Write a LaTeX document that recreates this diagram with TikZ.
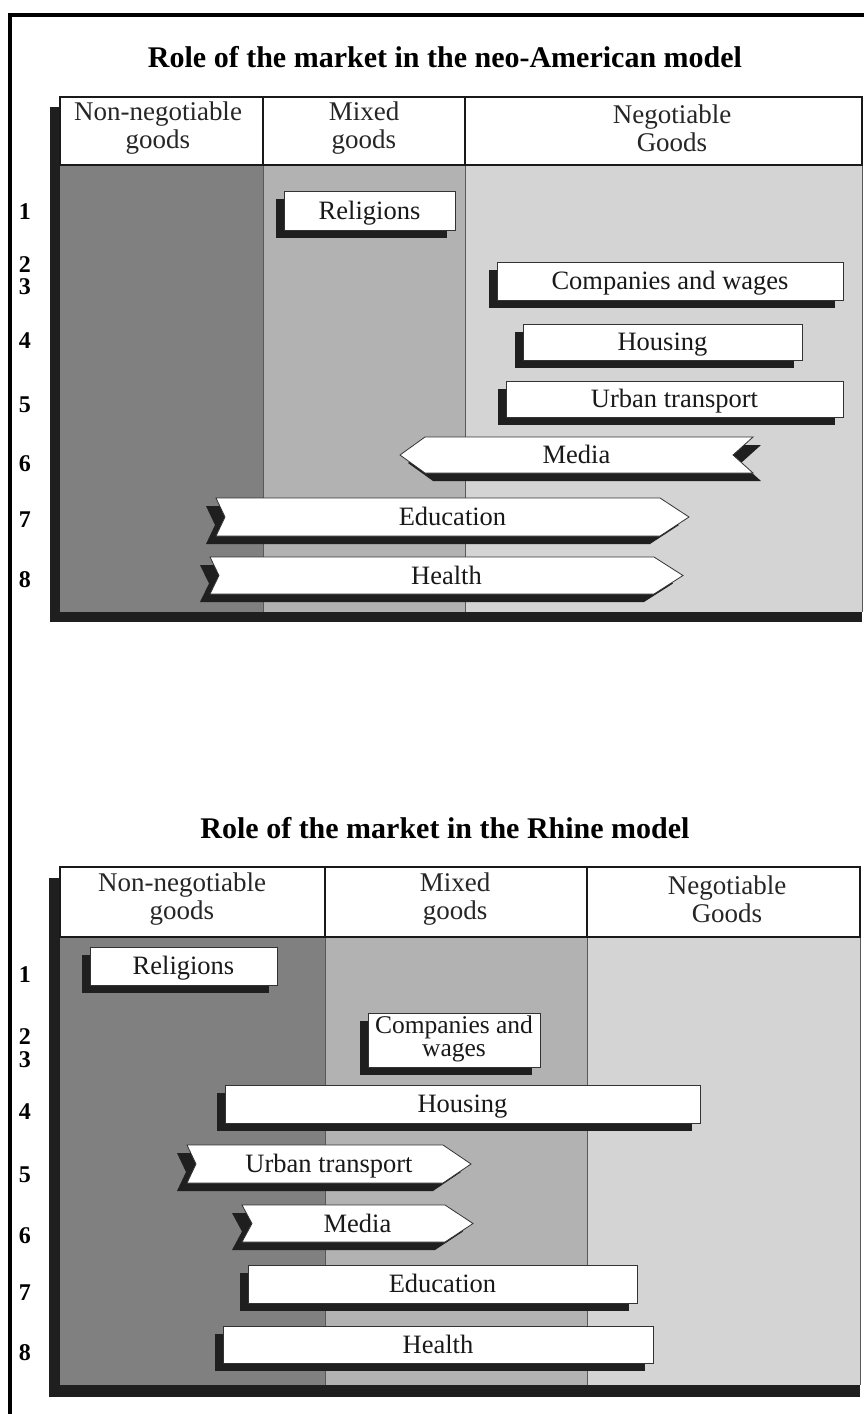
\documentclass[tikz,border=0pt]{standalone}
\usepackage{fontspec}
\setmainfont{Liberation Serif}
\definecolor{cola}{HTML}{808080}
\definecolor{colb}{HTML}{B2B2B2}
\definecolor{colc}{HTML}{D4D4D4}
\tikzset{
  frameline/.style={line width=3.5pt, black},
  hdrline/.style={line width=1.6pt, black!90},
  divline/.style={line width=1pt, black!65},
  tshadow/.style={fill=black!88},
  barshadow/.style={fill=black!88},
  barbox/.style={fill=white, draw=black!80, line width=0.8pt},
  bartext/.style={font=\fontsize{26.5}{26}\selectfont, inner sep=0pt, text=black!90},
  bartwo/.style={font=\fontsize{25.5}{23}\selectfont, inner sep=0pt, align=center, text=black!90},
  hdrtext/.style={font=\fontsize{27}{28}\selectfont, inner sep=0pt, align=center, text=black!85},
  rownum/.style={font=\bfseries\fontsize{24}{24}\selectfont, inner sep=0pt, text=black},
  titletext/.style={font=\bfseries\fontsize{30}{30}\selectfont, inner sep=0pt, text=black},
}
% rectangular bar: name, xl, xr, yt, yb, text
\newcommand\RectBar[6]{%
  \fill[barshadow] ({#2-8},{#4+8}) rectangle ({#3-8},{#5+8});
  \draw[barbox] (#2,#4) rectangle (#3,#5);
  \node[bartext,anchor=base] (#1) at ({(#2+#3)/2},{(#4+#5)/2+8.5}) {#6};
}
% right-pointing arrow: name, xl, xr, yt, yb, text, tip depth, notch depth
\newcommand\RArrow[8]{%
  \fill[barshadow] ({#2-10},{#4+8}) -- ({#3-#7-10},{#4+8}) -- ({#3-10},{(#4+#5)/2+8}) -- ({#3-#7-10},{#5+8}) -- ({#2-10},{#5+8}) -- ({#2+#8-10},{(#4+#5)/2+8}) -- cycle;
  \draw[barbox] (#2,#4) -- ({#3-#7},#4) -- (#3,{(#4+#5)/2}) -- ({#3-#7},#5) -- (#2,#5) -- ({#2+#8},{(#4+#5)/2}) -- cycle;
  \node[bartext,anchor=base] (#1) at ({(#2+#3)/2},{(#4+#5)/2+8.5}) {#6};
}
% left-pointing arrow (shadow to the right): name, xl, xr, yt, yb, text, tip depth, notch depth
\newcommand\LArrow[8]{%
  \fill[barshadow] ({#2+8},{(#4+#5)/2+8}) -- ({#2+#7+8},{#4+8}) -- ({#3+8},{#4+8}) -- ({#3-#8+8},{(#4+#5)/2+8}) -- ({#3+8},{#5+8}) -- ({#2+#7+8},{#5+8}) -- cycle;
  \draw[barbox] (#2,{(#4+#5)/2}) -- ({#2+#7},#4) -- (#3,#4) -- ({#3-#8},{(#4+#5)/2}) -- (#3,#5) -- ({#2+#7},#5) -- cycle;
  \node[bartext,anchor=base] (#1) at ({(#2+#3)/2},{(#4+#5)/2+8.5}) {#6};
}
\begin{document}
\begin{tikzpicture}[x=1pt,y=-1pt]
\useasboundingbox (0,0) rectangle (864,1414);
\fill[white] (0,0) rectangle (864,1414);
% outer frame
\draw[frameline] (10,1420) -- (10,15) -- (870,15);

% ---------------- Table 1 ----------------
\node[titletext] (title1) at (445,57) {Role of the market in the neo-American model};
\fill[tshadow] (50,107) rectangle (862,622);
\fill[cola] (60,165) rectangle (263,612);
\fill[colb] (263,165) rectangle (465,612);
\fill[colc] (465,165) rectangle (862,612);
\fill[white] (60,97) rectangle (862,165);
\draw[divline] (263,165) -- (263,612);
\draw[divline] (465,165) -- (465,612);
\draw[divline] (862,165) -- (862,612);
\draw[hdrline] (60,97) rectangle (862,165);
\draw[hdrline] (263,97) -- (263,165);
\draw[hdrline] (465,97) -- (465,165);
\node[hdrtext] (h1a) at (158,128) {Non-negotiable\\goods};
\node[hdrtext] (h1b) at (364,128) {Mixed\\goods};
\node[hdrtext] (h1c) at (672,128) {Negotiable\\Goods};

\node[rownum] (r1a) at (25,212) {1};
\node[rownum] (r1b) at (25,265) {2};
\node[rownum] (r1c) at (25,287) {3};
\node[rownum] (r1d) at (25,341) {4};
\node[rownum] (r1e) at (25,405) {5};
\node[rownum] (r1f) at (25,464) {6};
\node[rownum] (r1g) at (25,520) {7};
\node[rownum] (r1h) at (25,580) {8};

\RectBar{t1rel}{284}{455}{191}{230}{Religions}
\RectBar{t1com}{497}{843}{262}{300}{Companies and wages}
\RectBar{t1hou}{523}{802}{324}{360}{Housing}
\RectBar{t1urb}{506}{843}{381}{417}{Urban transport}
\LArrow{t1med}{400}{753}{437}{473}{Media}{25}{20}
\RArrow{t1edu}{216}{689}{498}{536}{Education}{29}{9}
\RArrow{t1hea}{210}{683}{557}{594}{Health}{29}{9}

% ---------------- Table 2 ----------------
\node[titletext] (title2) at (445,828) {Role of the market in the Rhine model};
\fill[tshadow] (49,878) rectangle (860,1397);
\fill[cola] (60,937) rectangle (325,1385);
\fill[colb] (325,937) rectangle (587,1385);
\fill[colc] (587,937) rectangle (860,1385);
\fill[white] (60,867) rectangle (860,937);
\draw[divline] (325,937) -- (325,1385);
\draw[divline] (587,937) -- (587,1385);
\draw[divline] (860,937) -- (860,1385);
\draw[hdrline] (60,867) rectangle (860,937);
\draw[hdrline] (325,867) -- (325,937);
\draw[hdrline] (587,867) -- (587,937);
\node[hdrtext] (h2a) at (182,899) {Non-negotiable\\goods};
\node[hdrtext] (h2b) at (455,899) {Mixed\\goods};
\node[hdrtext] (h2c) at (727,899) {Negotiable\\Goods};

\node[rownum] (r2a) at (25,975) {1};
\node[rownum] (r2b) at (25,1037) {2};
\node[rownum] (r2c) at (25,1060) {3};
\node[rownum] (r2d) at (25,1112) {4};
\node[rownum] (r2e) at (25,1175) {5};
\node[rownum] (r2f) at (25,1236) {6};
\node[rownum] (r2g) at (25,1293) {7};
\node[rownum] (r2h) at (25,1353) {8};

\RectBar{t2rel}{90}{277}{947}{985}{Religions}
\fill[barshadow] (360,1021) rectangle (532,1075);
\draw[barbox] (368,1013) rectangle (540,1067);
\node[bartwo] (t2com) at (454,1039) {Companies and\\wages};
\RectBar{t2hou}{225}{700}{1085}{1123}{Housing}
\RArrow{t2urb}{187}{471}{1145}{1183}{Urban transport}{28}{9}
\RArrow{t2med}{242}{473}{1205}{1242}{Media}{28}{10}
\RectBar{t2edu}{248}{637}{1265}{1303}{Education}
\RectBar{t2hea}{223}{653}{1326}{1363}{Health}
\end{tikzpicture}
\end{document}
